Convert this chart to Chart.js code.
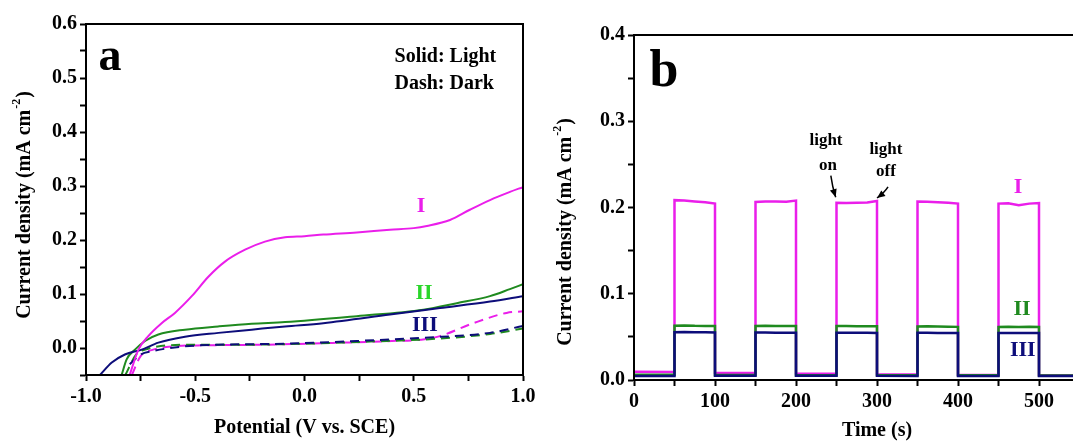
<!DOCTYPE html>
<html>
<head>
<meta charset="utf-8">
<script src="https://cdn.jsdelivr.net/npm/chart.js@4/dist/chart.umd.min.js"></script>
<style>
  html, body { margin: 0; padding: 0; background: #fff; overflow: hidden; }
  #boxA { position: absolute; left: 0; top: 0; }
  #boxB { position: absolute; left: 545px; top: 0; }
</style>
</head>
<body>
<div id="boxA"><canvas id="chartA" width="545" height="443"></canvas></div>
<div id="boxB"><canvas id="chartB" width="600" height="443"></canvas></div>
<script>
// ---- panel a: J-V curves (solid = light, dash = dark) ----
const lightI_V = [-0.80, -0.76, -0.715, -0.654, -0.593, -0.516, -0.44, -0.364, -0.272, -0.181, -0.089, 0.0, 0.086, 0.239, 0.391, 0.50, 0.56, 0.666, 0.757, 0.849, 0.94, 1.0];
const lightI_J = [-0.05, -0.003, 0.022, 0.046, 0.065, 0.096, 0.132, 0.160, 0.182, 0.197, 0.205, 0.207, 0.210, 0.214, 0.219, 0.222, 0.226, 0.237, 0.256, 0.274, 0.289, 0.298];

const lightII_V = [-0.837, -0.814, -0.776, -0.73, -0.669, -0.547, -0.394, -0.242, -0.089, 0.239, 0.544, 0.697, 0.849, 0.94, 1.0];
const lightII_J = [-0.05, -0.021, -0.003, 0.013, 0.025, 0.034, 0.040, 0.045, 0.048, 0.059, 0.071, 0.083, 0.096, 0.109, 0.118];

const lightIII_V = [-0.936, -0.882, -0.822, -0.745, -0.669, -0.547, -0.394, -0.242, -0.089, 0.086, 0.391, 0.62, 0.849, 1.0];
const lightIII_J = [-0.05, -0.027, -0.012, -0.003, 0.010, 0.021, 0.028, 0.034, 0.040, 0.046, 0.062, 0.074, 0.086, 0.096];

const darkI_V = [-0.79, -0.75, -0.70, -0.60, -0.45, -0.2, 0.1, 0.4, 0.55, 0.62, 0.773, 0.925, 1.0];
const darkI_J = [-0.05, -0.015, -0.004, 0.003, 0.005, 0.006, 0.009, 0.013, 0.016, 0.022, 0.046, 0.065, 0.068];

const darkII_V = [-0.82, -0.77, -0.72, -0.65, -0.5, -0.3, 0.0, 0.3, 0.6, 0.85, 1.0];
const darkII_J = [-0.05, -0.012, -0.002, 0.004, 0.006, 0.006, 0.008, 0.012, 0.017, 0.026, 0.036];

const darkIII_V = [-0.80, -0.75, -0.70, -0.547, -0.394, -0.089, 0.239, 0.544, 0.849, 1.0];
const darkIII_J = [-0.03, -0.012, -0.006, 0.003, 0.006, 0.008, 0.013, 0.019, 0.028, 0.041];

// ---- panel b: chopped-light transients ----
const timeB = [0, 50, 50, 62, 75, 88, 100, 100, 150, 150, 162, 175, 188, 200, 200, 250, 250, 262, 275, 288, 300,
               300, 350, 350, 362, 375, 388, 400, 400, 450, 450, 462, 475, 488, 500, 500, 600];
const currI = [0.0095, 0.0093, 0.2085, 0.208, 0.207, 0.206, 0.2045,
               0.0085, 0.0080, 0.2065, 0.207, 0.207, 0.2068, 0.208,
               0.0075, 0.0072, 0.2055, 0.2053, 0.2055, 0.2058, 0.2075,
               0.0068, 0.0065, 0.207, 0.2068, 0.2062, 0.2055, 0.2045,
               0.0060, 0.0058, 0.2045, 0.205, 0.2025, 0.2045, 0.2052,
               0.0058, 0.0055];
const currII = [0.0060, 0.0060, 0.0630, 0.0632, 0.0628, 0.0627, 0.0625,
                0.0058, 0.0057, 0.0627, 0.0628, 0.0626, 0.0625, 0.0625,
                0.0056, 0.0056, 0.0625, 0.0626, 0.0624, 0.0623, 0.0622,
                0.0055, 0.0055, 0.0620, 0.0622, 0.0620, 0.0618, 0.0616,
                0.0054, 0.0054, 0.0615, 0.0617, 0.0615, 0.0616, 0.0614,
                0.0053, 0.0053];
const currIII = [0.0046, 0.0046, 0.0555, 0.0556, 0.0554, 0.0553, 0.0552,
                 0.0050, 0.0050, 0.0550, 0.0551, 0.0549, 0.0548, 0.0548,
                 0.0050, 0.0049, 0.0548, 0.0549, 0.0548, 0.0547, 0.0546,
                 0.0048, 0.0047, 0.0547, 0.0548, 0.0546, 0.0545, 0.0545,
                 0.0046, 0.0046, 0.0545, 0.0546, 0.0545, 0.0544, 0.0544,
                 0.0045, 0.0045];

const MAGENTA = '#ea1eea';
const GREEN = '#1f8a1f';
const NAVY = '#0d0d7a';
const FONT = '"Liberation Serif", "Times New Roman", serif';

Chart.defaults.font.family = FONT;
Chart.defaults.font.weight = 'bold';
Chart.defaults.color = '#000';

const pairs = (xs, ys) => xs.map((x, i) => ({ x: x, y: ys[i] }));

// box round the plot area
const framePlugin = {
  id: 'frame',
  afterDatasetsDraw(chart) {
    const { ctx, chartArea: a } = chart;
    ctx.save();
    ctx.strokeStyle = '#000';
    ctx.lineWidth = 2;
    ctx.strokeRect(a.left, a.top, a.right - a.left, a.bottom - a.top);
    ctx.restore();
  }
};

// rotated y title with a real superscript
function drawYTitle(ctx, cx, cy) {
  const main = 'Current density (mA cm', sup = '-2', tail = ')';
  ctx.save();
  ctx.fillStyle = '#000';
  ctx.font = 'bold 20px ' + FONT;
  const w1 = ctx.measureText(main).width, w3 = ctx.measureText(tail).width;
  ctx.font = 'bold 12px ' + FONT;
  const w2 = ctx.measureText(sup).width;
  ctx.translate(cx, cy);
  ctx.rotate(-Math.PI / 2);
  ctx.textAlign = 'left';
  ctx.textBaseline = 'middle';
  let x = -(w1 + w2 + w3) / 2;
  ctx.font = 'bold 20px ' + FONT;
  ctx.fillText(main, x, 0); x += w1;
  ctx.font = 'bold 12px ' + FONT;
  ctx.fillText(sup, x + 1, -8); x += w2 + 2;
  ctx.font = 'bold 20px ' + FONT;
  ctx.fillText(tail, x, 0);
  ctx.restore();
}

// text and arrows placed in data units
function notesPlugin(notes, arrows, title) {
  return {
    id: 'notes',
    afterDraw(chart) {
      const { ctx, scales } = chart;
      const px = v => scales.x.getPixelForValue(v);
      const py = v => scales.y.getPixelForValue(v);
      ctx.save();
      notes.forEach(n => {
        ctx.font = n.font;
        ctx.fillStyle = n.color || '#000';
        ctx.textAlign = n.align || 'center';
        ctx.textBaseline = n.baseline || 'middle';
        ctx.fillText(n.text, px(n.x), py(n.y));
      });
      arrows.forEach(a => {
        const x0 = px(a.from[0]), y0 = py(a.from[1]);
        const x1 = px(a.to[0]), y1 = py(a.to[1]);
        const cxp = (x0 + x1) / 2 + a.bend, cyp = (y0 + y1) / 2;
        ctx.strokeStyle = '#000';
        ctx.fillStyle = '#000';
        ctx.lineWidth = 1.5;
        ctx.beginPath();
        ctx.moveTo(x0, y0);
        ctx.quadraticCurveTo(cxp, cyp, x1, y1);
        ctx.stroke();
        const ang = Math.atan2(y1 - cyp, x1 - cxp);
        const L = 8, W = 3.5;
        ctx.beginPath();
        ctx.moveTo(x1, y1);
        ctx.lineTo(x1 - L * Math.cos(ang) + W * Math.sin(ang), y1 - L * Math.sin(ang) - W * Math.cos(ang));
        ctx.lineTo(x1 - L * Math.cos(ang) - W * Math.sin(ang), y1 - L * Math.sin(ang) + W * Math.cos(ang));
        ctx.closePath();
        ctx.fill();
      });
      ctx.restore();
      drawYTitle(ctx, title.x, title.y);
    }
  };
}

function axisStyle() {
  return {
    grid: { drawOnChartArea: false, drawTicks: true, tickLength: 6, tickWidth: 2, tickColor: '#000' },
    border: { display: true, color: '#000', width: 2 }
  };
}

function line(data, color, dashed, order, width) {
  return {
    data: data,
    borderColor: color,
    borderWidth: width || 2,
    borderDash: dashed ? [9, 6] : [],
    pointRadius: 0,
    fill: false,
    order: order
  };
}

const baseOpts = {
  responsive: false,
  animation: false,
  plugins: { legend: { display: false }, tooltip: { enabled: false } }
};

// ---------- chart a ----------
new Chart(document.getElementById('chartA'), {
  type: 'line',
  data: {
    datasets: [
      line(pairs(darkI_V, darkI_J), MAGENTA, true, 5),
      line(pairs(darkII_V, darkII_J), GREEN, true, 4),
      line(pairs(darkIII_V, darkIII_J), NAVY, true, 3),
      line(pairs(lightII_V, lightII_J), GREEN, false, 2),
      line(pairs(lightIII_V, lightIII_J), NAVY, false, 1),
      line(pairs(lightI_V, lightI_J), MAGENTA, false, 0)
    ].map(d => Object.assign(d, { cubicInterpolationMode: 'monotone' }))
  },
  options: Object.assign({}, baseOpts, {
    layout: { padding: { top: 24, right: 22, bottom: 0, left: 0 } },
    scales: {
      x: Object.assign(axisStyle(), {
        type: 'linear', min: -1, max: 1,
        afterFit: s => { s.height = 68; },
        ticks: {
          stepSize: 0.25, autoSkip: false, maxRotation: 0, padding: 4,
          font: { size: 20, weight: 'bold' }, color: '#000',
          callback: v => { const k = Math.round(v * 100); return k % 50 === 0 ? (k / 100).toFixed(1) : ''; }
        },
        title: { display: true, text: 'Potential (V vs. SCE)', color: '#000',
                 font: { size: 20, weight: 'bold' }, padding: { top: 0, bottom: 3 } }
      }),
      y: Object.assign(axisStyle(), {
        type: 'linear', min: -0.05, max: 0.6,
        afterFit: s => { s.width = 86; },
        ticks: {
          stepSize: 0.05, autoSkip: false, padding: 3,
          font: { size: 20, weight: 'bold' }, color: '#000',
          callback: v => { const k = Math.round(v * 100); return k % 10 === 0 ? (k / 100).toFixed(1) : ''; }
        }
      })
    }
  }),
  plugins: [framePlugin, notesPlugin([
    { text: 'a', x: -0.89, y: 0.514, font: 'bold 46px ' + FONT, baseline: 'alphabetic' },
    { text: 'Solid: Light', x: 0.412, y: 0.529, font: 'bold 20px ' + FONT, align: 'left', baseline: 'alphabetic' },
    { text: 'Dash: Dark', x: 0.412, y: 0.479, font: 'bold 20px ' + FONT, align: 'left', baseline: 'alphabetic' },
    { text: 'I', x: 0.533, y: 0.263, font: 'bold 22px ' + FONT, color: MAGENTA },
    { text: 'II', x: 0.547, y: 0.101, font: 'bold 22px ' + FONT, color: '#2ad62a' },
    { text: 'III', x: 0.551, y: 0.042, font: 'bold 22px ' + FONT, color: NAVY }
  ], [], { x: 25, y: 206 })]
});

// ---------- chart b ----------
new Chart(document.getElementById('chartB'), {
  type: 'line',
  data: {
    datasets: [
      line(pairs(timeB, currI), MAGENTA, false, 2, 2.5),
      line(pairs(timeB, currII), GREEN, false, 1, 2.5),
      line(pairs(timeB, currIII), NAVY, false, 0, 2.5)
    ]
  },
  options: Object.assign({}, baseOpts, {
    layout: { padding: { top: 35, right: 25, bottom: 0, left: 0 } },
    scales: {
      x: Object.assign(axisStyle(), {
        type: 'linear', min: 0, max: 600,
        afterFit: s => { s.height = 63; },
        ticks: {
          stepSize: 50, autoSkip: false, maxRotation: 0, padding: 4,
          font: { size: 20, weight: 'bold' }, color: '#000',
          callback: v => (v % 100 === 0 ? String(v) : '')
        },
        title: { display: true, text: 'Time (s)', color: '#000',
                 font: { size: 20, weight: 'bold' }, padding: { top: 0, bottom: 0 } }
      }),
      y: Object.assign(axisStyle(), {
        type: 'linear', min: 0, max: 0.4,
        afterFit: s => { s.width = 89; },
        ticks: {
          stepSize: 0.05, autoSkip: false, padding: 3,
          font: { size: 20, weight: 'bold' }, color: '#000',
          callback: v => { const k = Math.round(v * 100); return k % 10 === 0 ? (k / 100).toFixed(1) : ''; }
        }
      })
    }
  }),
  plugins: [framePlugin, notesPlugin([
    { text: 'b', x: 37, y: 0.341, font: 'bold 52px ' + FONT, baseline: 'alphabetic' },
    { text: 'light', x: 237, y: 0.277, font: 'bold 17px ' + FONT },
    { text: 'on', x: 239.5, y: 0.249, font: 'bold 17px ' + FONT },
    { text: 'light', x: 311, y: 0.267, font: 'bold 17px ' + FONT },
    { text: 'off', x: 311, y: 0.242, font: 'bold 17px ' + FONT },
    { text: 'I', x: 474, y: 0.223, font: 'bold 22px ' + FONT, color: MAGENTA },
    { text: 'II', x: 479, y: 0.082, font: 'bold 22px ' + FONT, color: GREEN },
    { text: 'III', x: 480, y: 0.034, font: 'bold 22px ' + FONT, color: NAVY }
  ], [
    { from: [243, 0.237], to: [249, 0.212], bend: -1 },
    { from: [313.6, 0.224], to: [300, 0.211], bend: 2 }
  ], { x: 21, y: 233 })]
});
</script>
</body>
</html>
